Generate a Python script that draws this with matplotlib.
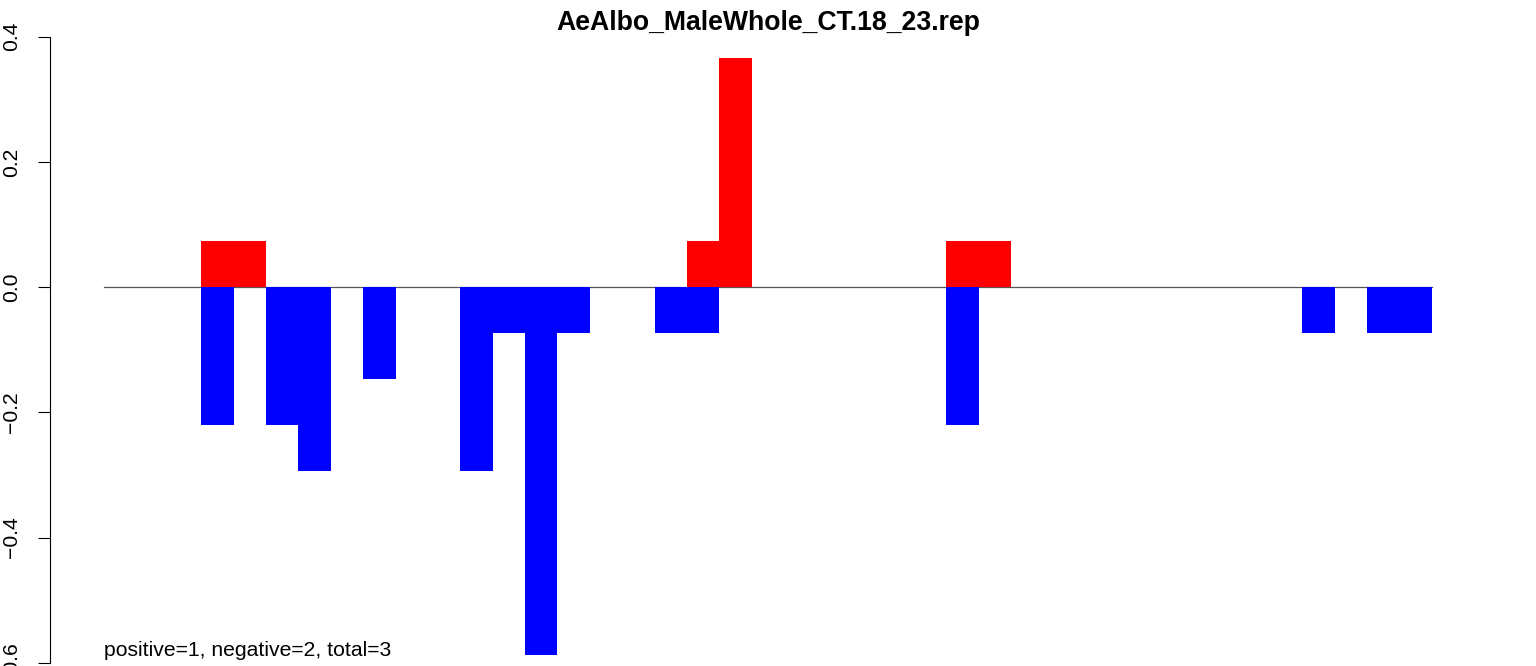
import matplotlib
matplotlib.use("Agg")
import matplotlib.pyplot as plt

# --- data: one value per bin (41 bins) ---
TITLE = "AeAlbo_MaleWhole_CT.18_23.rep"
NOTE = "positive=1, negative=2, total=3"
bins = list(range(41))
positive = [0, 0, 0, 0.073, 0.073, 0, 0, 0, 0, 0,
            0, 0, 0, 0, 0, 0, 0, 0, 0.073, 0.366,
            0, 0, 0, 0, 0, 0, 0.073, 0.073, 0, 0,
            0, 0, 0, 0, 0, 0, 0, 0, 0, 0, 0]
negative = [0, 0, 0, -0.220, 0, -0.220, -0.293, 0, -0.147, 0,
            0, -0.293, -0.073, -0.587, -0.073, 0, 0, -0.073, -0.073, 0,
            0, 0, 0, 0, 0, 0, -0.220, 0, 0, 0,
            0, 0, 0, 0, 0, 0, 0, -0.073, 0, -0.073, -0.073]
yticks = [-0.6, -0.4, -0.2, 0.0, 0.2, 0.4]

plt.rcParams['font.family'] = ['Liberation Sans', 'DejaVu Sans']

fig = plt.figure(figsize=(15.36, 6.66), dpi=100)
ax = fig.add_axes([50 / 1536, 0, 1440 / 1536, 1])

# baseline across all bins
ax.plot([0, len(bins)], [0, 0], color="#555555", linewidth=0.9, zorder=1)

ax.bar(bins, negative, width=1, align="edge", color="blue", linewidth=0, zorder=2)
ax.bar(bins, positive, width=1, align="edge", color="red", linewidth=0, zorder=2)

# match R's plot region mapping
ax.set_xlim((50 - 104) / 32.39, (1490 - 104) / 32.39)
ax.set_ylim(0.4 - (666 - 36.7) / 626, 0.4 + 36.7 / 626)

for s in ["top", "right", "bottom"]:
    ax.spines[s].set_visible(False)
ax.spines["left"].set_bounds(-0.6, 0.4)
ax.spines["left"].set_linewidth(0.8)
ax.set_xticks([])
ax.set_yticks(yticks)
ax.set_yticklabels(["\u22120.6", "\u22120.4", "\u22120.2", "0.0", "0.2", "0.4"],
                   rotation=90, va="center")
ax.tick_params(axis="y", length=8.6, width=0.8, pad=12, labelsize=15.2)

ax.text(0, -0.5893, NOTE, fontsize=15.25, ha="left", va="baseline")
fig.text(768 / 1536, 1 - 23 / 666, TITLE, fontsize=19.2, fontweight="bold",
         ha="center", va="center")

fig.savefig("out.png", dpi=100)
